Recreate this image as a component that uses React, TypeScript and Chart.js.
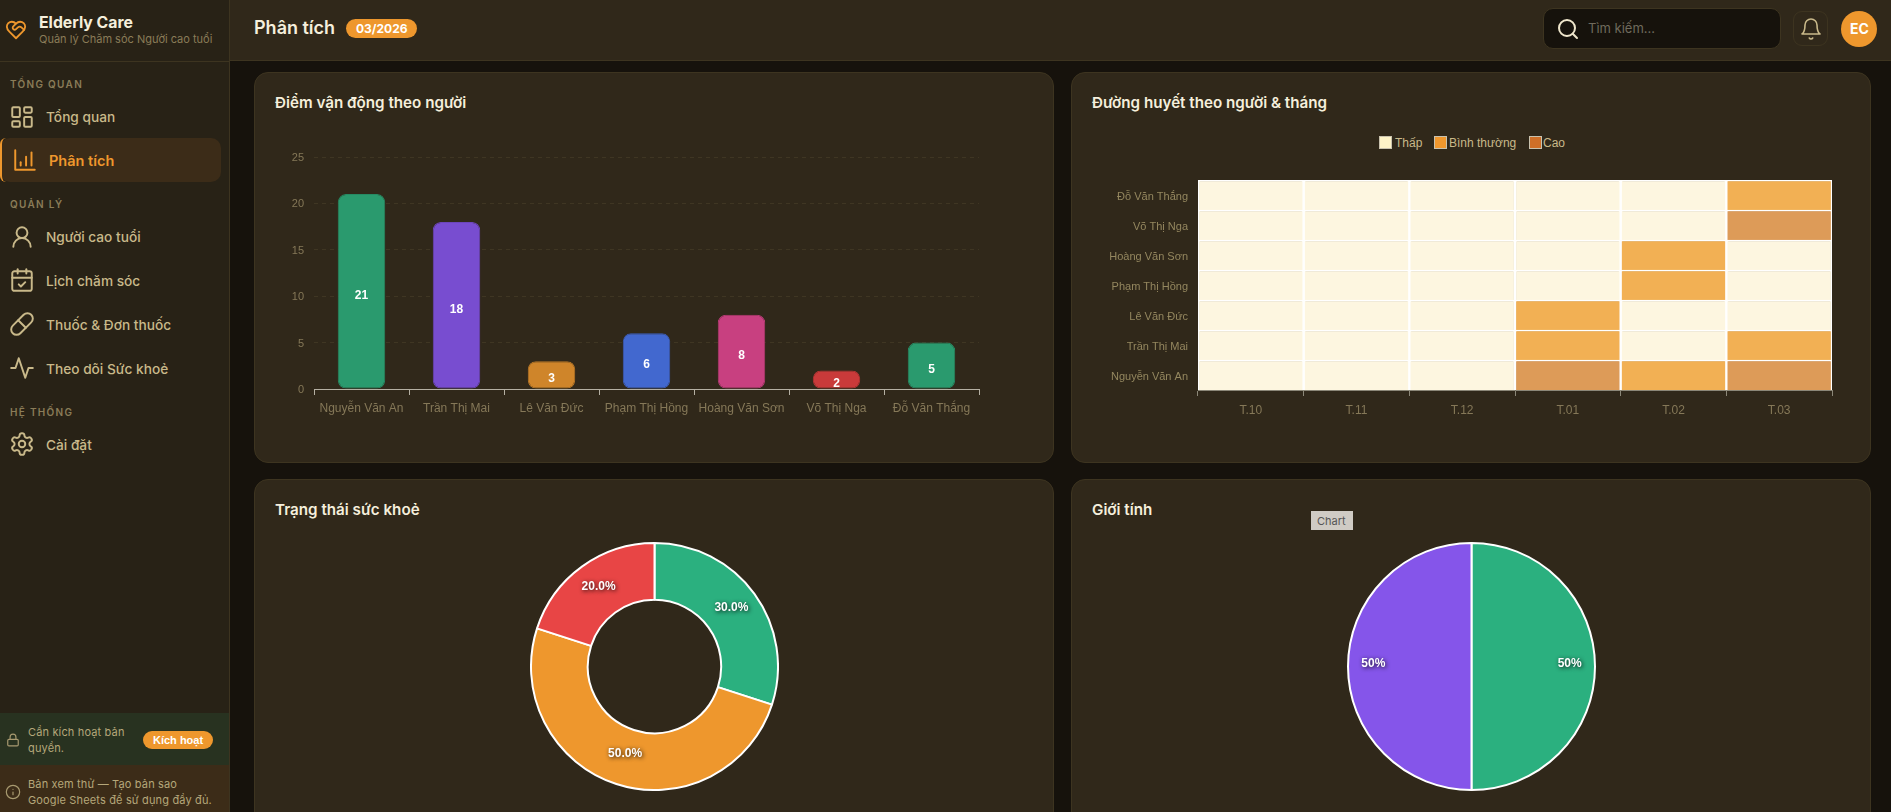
import React, { useEffect, useRef } from 'react';
import { Chart, registerables } from 'chart.js';

Chart.register(...registerables);

// bar chart data
const people = ['Nguyễn Văn An', 'Trần Thị Mai', 'Lê Văn Đức', 'Phạm Thị Hồng', 'Hoàng Văn Sơn', 'Võ Thị Nga', 'Đỗ Văn Thắng'];
const activityScores = [21, 18, 3, 6, 8, 2, 5];
const activityFill = ['#2a9a6e', '#784dd0', '#cf852a', '#4268cf', '#c84080', '#c93a3a', '#2a9a6e'];
const activityEdge = ['#268a63', '#6c45bb', '#ba7826', '#3b5dba', '#b43a73', '#b53434', '#268a63'];

// heatmap data, 0 = low, 1 = normal, 2 = high
const months = ['T.10', 'T.11', 'T.12', 'T.01', 'T.02', 'T.03'];
const levelNames = ['Thấp', 'Bình thường', 'Cao'];
const levelNguyen = [0, 0, 0, 2, 1, 2];
const levelTran = [0, 0, 0, 1, 0, 1];
const levelLe = [0, 0, 0, 1, 0, 0];
const levelPham = [0, 0, 0, 0, 1, 0];
const levelHoang = [0, 0, 0, 0, 1, 0];
const levelVo = [0, 0, 0, 0, 0, 2];
const levelDo = [0, 0, 0, 0, 0, 1];
const levelRows = [levelNguyen, levelTran, levelLe, levelPham, levelHoang, levelVo, levelDo];
const cellColors = ['#fdf6e0', '#f2b054', '#dd9b58'];
const legendColors = ['#fef3c7', '#f0982e', '#cf6f28'];

// health status
const healthLabels = ['Tốt', 'Trung bình', 'Yếu'];
const healthValues = [30, 50, 20];
const healthColors = ['#2bb07f', '#ee972d', '#e84545'];

// gender
const genderLabels = ['Nam', 'Nữ'];
const genderValues = [50, 50];
const genderColors = ['#2bb07f', '#8555ea'];

const CANVAS_FONT = '"Liberation Sans", Arial, sans-serif';
const UI_FONT = 'Inter, sans-serif';
const AXIS_TEXT = '#857858';

// writes the value in the middle of each bar
const barValuePlugin = {
    id: 'barValues',
    afterDatasetsDraw(chart: any) {
        if (chart.config.options.plugins.barValues?.show !== true) return;
        const { ctx } = chart;
        const meta = chart.getDatasetMeta(0);
        ctx.save();
        ctx.font = `bold 12px ${CANVAS_FONT}`;
        ctx.fillStyle = '#ffffff';
        ctx.textAlign = 'center';
        ctx.textBaseline = 'middle';
        meta.data.forEach((bar: any, i: number) => {
            ctx.fillText(String(chart.data.datasets[0].data[i]), bar.x, (bar.y + bar.base) / 2 + 4);
        });
        ctx.restore();
    },
};

// percentage labels with a shadow on pie and doughnut
const sliceLabelPlugin = {
    id: 'sliceLabels',
    afterDatasetsDraw(chart: any) {
        const opts = chart.config.options.plugins.sliceLabels;
        if (!opts) return;
        const { ctx } = chart;
        const values = chart.data.datasets[0].data as number[];
        const total = values.reduce((a, b) => a + b, 0);
        ctx.save();
        ctx.font = `bold 12px ${CANVAS_FONT}`;
        ctx.fillStyle = '#ffffff';
        ctx.textAlign = 'center';
        ctx.textBaseline = 'middle';
        ctx.shadowColor = 'rgba(0,0,0,0.9)';
        ctx.shadowBlur = 4;
        ctx.shadowOffsetX = 1;
        ctx.shadowOffsetY = 1;
        chart.getDatasetMeta(0).data.forEach((arc: any, i: number) => {
            const mid = (arc.startAngle + arc.endAngle) / 2;
            const r = arc.innerRadius + (arc.outerRadius - arc.innerRadius) * opts.at;
            const pct = (values[i] / total) * 100;
            ctx.fillText(pct.toFixed(opts.decimals) + '%', arc.x + Math.cos(mid) * r, arc.y + Math.sin(mid) * r - 3);
        });
        ctx.restore();
    },
};

Chart.register(barValuePlugin, sliceLabelPlugin);

const useChart = (makeConfig: () => any) => {
    const canvasRef = useRef<HTMLCanvasElement>(null);
    useEffect(() => {
        if (!canvasRef.current) return;
        const chart = new Chart(canvasRef.current, makeConfig());
        return () => chart.destroy();
    }, []);
    return canvasRef;
};

const ActivityChart = () => {
    const ref = useChart(() => ({
        type: 'bar',
        data: {
            labels: people,
            datasets: [
                {
                    data: activityScores,
                    backgroundColor: activityFill,
                    borderColor: activityEdge,
                    borderWidth: 1,
                    borderRadius: 8,
                    borderSkipped: false,
                    barPercentage: 0.5,
                    categoryPercentage: 1,
                },
            ],
        },
        options: {
            responsive: false,
            animation: false,
            layout: { padding: { top: 27, right: 1, left: 0, bottom: 0 } },
            plugins: { legend: { display: false }, tooltip: { enabled: false }, barValues: { show: true } },
            scales: {
                x: {
                    afterFit: (s: any) => { s.height = 51; },
                    grid: { drawOnChartArea: false, tickLength: 6, tickColor: '#b5b0a3' },
                    border: { color: '#b5b0a3' },
                    ticks: { color: AXIS_TEXT, font: { family: CANVAS_FONT, size: 12 }, padding: 6, maxRotation: 0, autoSkip: false },
                },
                y: {
                    min: 0,
                    max: 25,
                    afterFit: (s: any) => { s.width = 50; },
                    grid: { color: '#3f3623', drawTicks: false },
                    border: { display: false, dash: [4, 4] },
                    ticks: { stepSize: 5, color: AXIS_TEXT, font: { family: CANVAS_FONT, size: 11 }, padding: 10, labelOffset: 1 },
                },
            },
        },
    }));
    return <canvas ref={ref} width={716} height={310} style={{ position: 'absolute', left: 264, top: 130 }} />;
};

const GlucoseChart = () => {
    const ref = useChart(() => ({
        type: 'bar',
        data: {
            labels: months,
            datasets: levelRows.map((row, i) => ({
                label: people[i],
                data: row.map(() => 1),
                backgroundColor: row.map((lv) => cellColors[lv]),
                borderColor: '#ffffff',
                borderWidth: 1.5,
                barPercentage: 1,
                categoryPercentage: 1,
            })),
        },
        options: {
            responsive: false,
            animation: false,
            // the y axis asks for about 17px above its top tick, so keep more than that
            layout: { padding: { top: 20, right: 2, left: 0, bottom: 0 } },
            plugins: { legend: { display: false }, tooltip: { enabled: false } },
            scales: {
                x: {
                    stacked: true,
                    afterFit: (s: any) => { s.height = 50; },
                    grid: { drawOnChartArea: false, tickLength: 6, tickColor: '#8b8778' },
                    border: { color: '#8b8778', width: 1 },
                    ticks: { color: AXIS_TEXT, font: { family: CANVAS_FONT, size: 12 }, padding: 7, maxRotation: 0 },
                },
                y: {
                    stacked: true,
                    min: 0,
                    max: people.length,
                    afterFit: (s: any) => { s.width = 120; },
                    afterBuildTicks: (s: any) => { s.ticks = people.map((_, i) => ({ value: i + 0.5 })); },
                    grid: { display: false, drawTicks: false },
                    border: { display: false },
                    ticks: {
                        color: '#94875f',
                        font: { family: CANVAS_FONT, size: 11 },
                        padding: 10,
                        labelOffset: 2,
                        callback: (v: number) => people[Math.floor(v)],
                    },
                },
            },
        },
    }));
    return <canvas ref={ref} width={756} height={280} style={{ position: 'absolute', left: 1078, top: 160 }} />;
};

const HealthChart = () => {
    const ref = useChart(() => ({
        type: 'doughnut',
        data: {
            labels: healthLabels,
            datasets: [{ data: healthValues, backgroundColor: healthColors, borderColor: '#ffffff', borderWidth: 2 }],
        },
        options: {
            responsive: false,
            animation: false,
            cutout: '54%',
            plugins: { legend: { display: false }, tooltip: { enabled: false }, sliceLabels: { at: 0.5, decimals: 1 } },
        },
    }));
    return <canvas ref={ref} width={249} height={249} style={{ position: 'absolute', left: 530, top: 542 }} />;
};

const GenderChart = () => {
    const ref = useChart(() => ({
        type: 'pie',
        data: {
            labels: genderLabels,
            datasets: [{ data: genderValues, backgroundColor: genderColors, borderColor: '#ffffff', borderWidth: 2 }],
        },
        options: {
            responsive: false,
            animation: false,
            plugins: { legend: { display: false }, tooltip: { enabled: false }, sliceLabels: { at: 0.795, decimals: 0 } },
        },
    }));
    return <canvas ref={ref} width={249} height={249} style={{ position: 'absolute', left: 1347, top: 542 }} />;
};

// text placed by its left edge and vertical centre
const T = ({ x, y, size, color, weight = 400, spacing = 0, font = UI_FONT, children }: any) => (
    <div
        style={{
            position: 'absolute',
            left: x,
            top: y - 12,
            height: 24,
            lineHeight: '24px',
            fontFamily: font,
            fontSize: size,
            color,
            fontWeight: weight,
            letterSpacing: spacing,
            whiteSpace: 'nowrap',
        }}
    >
        {children}
    </div>
);

const Icon = ({ x, y, size = 26, color = '#c9b98a', width = 1.8, children }: any) => (
    <svg
        width={size}
        height={size}
        viewBox="0 0 24 24"
        fill="none"
        stroke={color}
        strokeWidth={width}
        strokeLinecap="round"
        strokeLinejoin="round"
        style={{ position: 'absolute', left: x, top: y - size / 2 }}
    >
        {children}
    </svg>
);

const Box = ({ x, y, w, h, bg, border, radius = 0, children }: any) => (
    <div
        style={{
            position: 'absolute',
            left: x,
            top: y,
            width: w,
            height: h,
            background: bg,
            border: border ? `1px solid ${border}` : undefined,
            borderRadius: radius,
            boxSizing: 'border-box',
        }}
    >
        {children}
    </div>
);

const LINE = '#3d3420';
const PANEL = '#30281a';
const SIDE = '#282216';
const NAV = '#c9b98a';
const MUTED = '#8a7c58';
const ORANGE = '#ee972d';
const TITLE = '#f5efdc';

const NavText = ({ y, children }: any) => <T x={46} y={y} size={13.7} weight={500} color={NAV}>{children}</T>;
const Section = ({ y, children }: any) => <T x={10} y={y} size={10} weight={600} spacing={1.3} color={MUTED}>{children}</T>;
const Note = ({ y, children }: any) => <T x={28} y={y} size={11} spacing={0.15} color="#b5a77a">{children}</T>;

const Sidebar = () => (
    <>
        <Box x={0} y={0} w={230} h={812} bg={SIDE} />
        <Box x={229} y={0} w={1} h={812} bg={LINE} />
        <Box x={0} y={61} w={229} h={1} bg={LINE} />
        <Icon x={5} y={30} size={22} color={ORANGE} width={2}>
            <path d="M19 14c1.49-1.46 3-3.21 3-5.5A5.5 5.5 0 0 0 16.5 3c-1.76 0-3 .5-4.5 2-1.5-1.5-2.74-2-4.5-2A5.5 5.5 0 0 0 2 8.5c0 2.3 1.5 4.05 3 5.5l7 7Z" />
            <path d="M12 5 9.04 7.96a2.17 2.17 0 0 0 0 3.08c.82.82 2.13.85 3 .07l2.07-1.9a2.82 2.82 0 0 1 3.79 0l2.96 2.66" />
        </Icon>
        <T x={39} y={23} size={15.8} weight={700} color={TITLE}>Elderly Care</T>
        <T x={39} y={39} size={11} color={MUTED}>Quản lý Chăm sóc Người cao tuổi</T>

        <Section y={84}>TỔNG QUAN</Section>
        <Icon x={9} y={117}>
            <rect x="3" y="3" width="7" height="9" rx="1" />
            <rect x="14" y="3" width="7" height="5" rx="1" />
            <rect x="14" y="12" width="7" height="9" rx="1" />
            <rect x="3" y="16" width="7" height="5" rx="1" />
        </Icon>
        <NavText y={117}>Tổng quan</NavText>

        <Box x={0} y={138} w={221} h={44} bg="#3c2c18" radius={10} />
        <div style={{ position: 'absolute', left: 0, top: 138, width: 6, height: 44, borderLeft: `2px solid ${ORANGE}`, borderRadius: '10px 0 0 10px', boxSizing: 'border-box' }} />
        <Icon x={12} y={160} color={ORANGE}>
            <path d="M3 3v18h18" />
            <path d="M8 17v-3" />
            <path d="M13 17V9" />
            <path d="M18 17V5" />
        </Icon>
        <T x={49} y={161} size={14.5} weight={600} color={ORANGE}>Phân tích</T>

        <Section y={204}>QUẢN LÝ</Section>
        <Icon x={9} y={237}>
            <circle cx="12" cy="8" r="5" />
            <path d="M20 21a8 8 0 0 0-16 0" />
        </Icon>
        <NavText y={237}>Người cao tuổi</NavText>
        <Icon x={9} y={280}>
            <rect x="3" y="4" width="18" height="18" rx="2" />
            <path d="M16 2v4" />
            <path d="M8 2v4" />
            <path d="M3 10h18" />
            <path d="m9 16 2 2 4-4" />
        </Icon>
        <NavText y={281}>Lịch chăm sóc</NavText>
        <Icon x={9} y={324}>
            <path d="m10.5 20.5 10-10a4.95 4.95 0 1 0-7-7l-10 10a4.95 4.95 0 1 0 7 7Z" />
            <path d="m8.5 8.5 7 7" />
        </Icon>
        <NavText y={325}>Thuốc &amp; Đơn thuốc</NavText>
        <Icon x={9} y={368}>
            <path d="M22 12h-4l-3 9L9 3l-3 9H2" />
        </Icon>
        <NavText y={369}>Theo dõi Sức khoẻ</NavText>

        <Section y={412}>HỆ THỐNG</Section>
        <Icon x={9} y={444}>
            <path d="M12.22 2h-.44a2 2 0 0 0-2 2v.18a2 2 0 0 1-1 1.73l-.43.25a2 2 0 0 1-2 0l-.15-.08a2 2 0 0 0-2.73.73l-.22.38a2 2 0 0 0 .73 2.73l.15.1a2 2 0 0 1 1 1.72v.51a2 2 0 0 1-1 1.74l-.15.09a2 2 0 0 0-.73 2.73l.22.38a2 2 0 0 0 2.73.73l.15-.08a2 2 0 0 1 2 0l.43.25a2 2 0 0 1 1 1.73V20a2 2 0 0 0 2 2h.44a2 2 0 0 0 2-2v-.18a2 2 0 0 1 1-1.73l.43-.25a2 2 0 0 1 2 0l.15.08a2 2 0 0 0 2.73-.73l.22-.39a2 2 0 0 0-.73-2.73l-.15-.08a2 2 0 0 1-1-1.74v-.5a2 2 0 0 1 1-1.74l.15-.09a2 2 0 0 0 .73-2.73l-.22-.38a2 2 0 0 0-2.73-.73l-.15.08a2 2 0 0 1-2 0l-.43-.25a2 2 0 0 1-1-1.73V4a2 2 0 0 0-2-2z" />
            <circle cx="12" cy="12" r="3" />
        </Icon>
        <NavText y={445}>Cài đặt</NavText>

        <Box x={0} y={713} w={229} h={52} bg="#283220" />
        <Icon x={6} y={740} size={14} color="#a89a70" width={2}>
            <rect x="3" y="11" width="18" height="11" rx="2" />
            <path d="M7 11V7a5 5 0 0 1 10 0v4" />
        </Icon>
        <Note y={732}>Cần kích hoạt bản</Note>
        <Note y={748}>quyền.</Note>
        <Box x={143} y={731} w={70} h={18} bg={ORANGE} radius={9} />
        <T x={153} y={740} size={11} weight={700} color="#ffffff" font={CANVAS_FONT}>Kích hoạt</T>

        <Box x={0} y={765} w={229} h={47} bg="#3c2c18" />
        <Icon x={5} y={792} size={16} color="#a89a70" width={1.8}>
            <circle cx="12" cy="12" r="10" />
            <path d="M12 16v-4" />
            <path d="M12 8h.01" />
        </Icon>
        <Note y={784}>Bản xem thử — Tạo bản sao</Note>
        <Note y={800}>Google Sheets để sử dụng đầy đủ.</Note>
    </>
);

const TopBar = () => (
    <>
        <Box x={230} y={0} w={1661} h={60} bg={PANEL} />
        <Box x={230} y={60} w={1661} h={1} bg={LINE} />
        <T x={254} y={28} size={18} weight={600} color={TITLE}>Phân tích</T>
        <Box x={346} y={19} w={71} h={19} bg={ORANGE} radius={10} />
        <T x={356} y={28.5} size={12} weight={700} color="#ffffff">03/2026</T>
        <Box x={1543} y={8} w={238} h={41} bg="#16120c" border={LINE} radius={10} />
        <Icon x={1556} y={29} size={24} color="#efe6cc" width={2}>
            <circle cx="11" cy="11" r="8" />
            <path d="m21 21-4.3-4.3" />
        </Icon>
        <T x={1588} y={28} size={13} color="#6f6a5c">Tìm kiếm...</T>
        <Box x={1793} y={11} w={35} h={35} bg="transparent" border={LINE} radius={9} />
        <Icon x={1799} y={29} size={24} color={NAV} width={1.6}>
            <path d="M6 8a6 6 0 0 1 12 0c0 7 3 9 3 9H3s3-2 3-9" />
            <path d="M10.3 21a1.94 1.94 0 0 0 3.4 0" />
        </Icon>
        <Box x={1841} y={11} w={36} h={36} bg={ORANGE} radius={18} />
        <T x={1850} y={29} size={14} weight={700} color="#ffffff">EC</T>
    </>
);

const GlucoseLegend = () => {
    const boxX = [1379, 1434, 1529];
    const textX = [1395, 1449, 1543];
    return (
        <>
            {levelNames.map((name, i) => (
                <React.Fragment key={name}>
                    <Box x={boxX[i]} y={136} w={13} h={13} bg={legendColors[i]} border="#c9c2ae" />
                    <T x={textX[i]} y={142.5} size={12} color={NAV} font={CANVAS_FONT}>{name}</T>
                </React.Fragment>
            ))}
        </>
    );
};

const App = () => (
    <div style={{ position: 'fixed', left: 0, top: 0, width: 1891, height: 812, overflow: 'hidden', background: '#16120c' }}>
        <Sidebar />
        <TopBar />

        <Box x={254} y={72} w={800} h={391} bg={PANEL} border={LINE} radius={14} />
        <T x={275} y={103} size={15.2} weight={600} color={TITLE}>Điểm vận động theo người</T>
        <ActivityChart />

        <Box x={1071} y={72} w={800} h={391} bg={PANEL} border={LINE} radius={14} />
        <T x={1092} y={103} size={15.2} weight={600} color={TITLE}>Đường huyết theo người &amp; tháng</T>
        <GlucoseLegend />
        <GlucoseChart />

        <Box x={254} y={479} w={800} h={400} bg={PANEL} border={LINE} radius={14} />
        <T x={275} y={510} size={15.2} weight={600} color={TITLE}>Trạng thái sức khoẻ</T>
        <HealthChart />

        <Box x={1071} y={479} w={800} h={400} bg={PANEL} border={LINE} radius={14} />
        <T x={1092} y={510} size={15.2} weight={600} color={TITLE}>Giới tính</T>
        <GenderChart />

        <Box x={1311} y={511} w={42} h={19} bg="#cfcbc4" />
        <T x={1317} y={520.5} size={11} color="#555555">Chart</T>
    </div>
);

export default App;
